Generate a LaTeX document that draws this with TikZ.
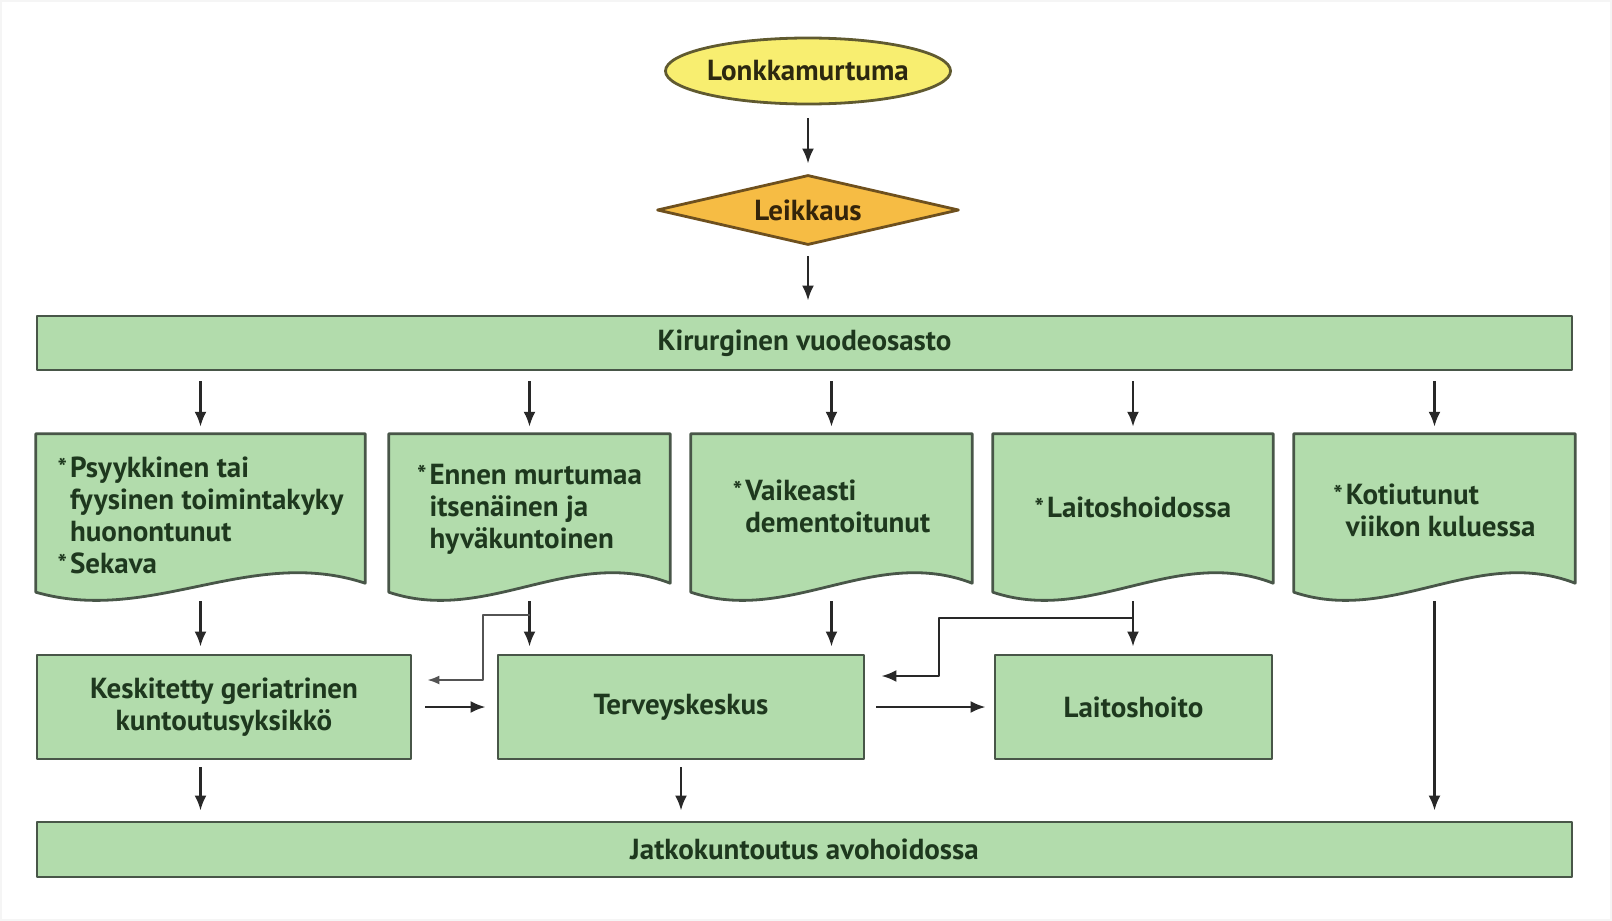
\documentclass[tikz,border=0pt]{standalone}
\usepackage{fontspec}
\newfontfamily\lbl{PT Sans Bold}
\usetikzlibrary{shapes.geometric, arrows.meta, calc}
\definecolor{boxgreen}{RGB}{178,220,172}
\definecolor{boxline}{RGB}{72,86,72}
\definecolor{txtgreen}{RGB}{30,56,30}
\definecolor{lonkyellow}{RGB}{248,238,112}
\definecolor{leikorange}{RGB}{246,188,68}
\definecolor{arrgray}{RGB}{40,40,40}
\newcommand{\astr}{{\fontsize{25}{25}\selectfont\raisebox{1pt}{*}}}

\begin{document}
\begin{tikzpicture}[x=1pt, y=-1pt, line join=round,
	box/.style={draw=boxline, fill=boxgreen, line width=2.8pt, inner sep=0pt, text=txtgreen,
		font=\lbl\fontsize{29}{32}\selectfont, align=center},
	docarea/.style={inner sep=0pt, minimum height=158pt},
	doctext/.style={inner sep=0pt, text=txtgreen, font=\lbl\fontsize{29}{32}\selectfont},
	arr/.style={-{Latex[length=15pt,width=12pt]}, line width=2.6pt, draw=arrgray},
	arrthin/.style={-{Latex[length=12pt,width=9pt]}, line width=1.9pt, draw=arrgray!80}]
	\useasboundingbox (0,0) rectangle (1612,921);
	\draw[gray!8, line width=4pt] (0,0) rectangle (1612,921);
	% top of the chart
	\node[ellipse, draw={rgb,255:red,96;green,90;blue,48}, fill=lonkyellow, line width=2.8pt, inner sep=0pt,
		minimum width=276pt, minimum height=66pt, text={rgb,255:red,44;green,40;blue,16},
		font=\lbl\fontsize{29}{32}\selectfont] (lonkka) at (808,71) {Lonkkamurtuma};
	\node[diamond, aspect=4.3, draw={rgb,255:red,110;green,80;blue,30}, fill=leikorange, line width=2.8pt, inner sep=0pt,
		minimum width=302pt, minimum height=70pt, text={rgb,255:red,52;green,36;blue,10},
		font=\lbl\fontsize{29}{32}\selectfont] (leik) at (808,210) {Leikkaus};
	\node[box, minimum width=1535pt, minimum height=54pt] (kir) at (804.5,343) {Kirurginen vuodeosasto};
	% document boxes
	\node[docarea, minimum width=329pt] (d1) at (200.5,513) {};
	\node[docarea, minimum width=281pt] (d2) at (529.5,513) {};
	\node[docarea, minimum width=281pt] (d3) at (831.5,513) {};
	\node[docarea, minimum width=280pt] (d4) at (1133,513) {};
	\node[docarea, minimum width=281pt] (d5) at (1434.5,513) {};
	\foreach \i in {1,...,5}
		\draw[boxline, fill=boxgreen, line width=2.8pt] (d\i.north west) -- (d\i.north east) -- ([yshift=9pt]d\i.south east)
			.. controls ($(d\i.south west)!0.65!(d\i.south east)+(0,-47)$) and ($(d\i.south west)!0.35!(d\i.south east)+(0,33)$)
			.. (d\i.south west) -- cycle;
	\node[doctext] (t1) at ([yshift=-6pt]d1) {\begin{tabular}{@{}r@{\hspace{3pt}}l@{}}\astr&Psyykkinen tai\\&fyysinen toimintakyky\\&huonontunut\\\astr&Sekava\end{tabular}};
	\node[doctext] (t2) at ([yshift=3pt]d2) {\begin{tabular}{@{}r@{\hspace{3pt}}l@{}}\astr&Ennen murtumaa\\&itsenäinen ja\\&hyväkuntoinen\end{tabular}};
	\node[doctext] (t3) at ([yshift=3pt]d3) {\begin{tabular}{@{}r@{\hspace{3pt}}l@{}}\astr&Vaikeasti\\&dementoitunut\end{tabular}};
	\node[doctext] (t4) at ([yshift=2pt]d4) {\begin{tabular}{@{}r@{\hspace{3pt}}l@{}}\astr&Laitoshoidossa\end{tabular}};
	\node[doctext] (t5) at ([yshift=-1pt]d5) {\begin{tabular}{@{}r@{\hspace{3pt}}l@{}}\astr&Kotiutunut\\&viikon kuluessa\end{tabular}};
	% second row and bottom bar
	\node[box, minimum width=374pt, minimum height=104pt] (kesk) at (224,707) {Keskitetty geriatrinen\\kuntoutusyksikkö};
	\node[box, minimum width=366pt, minimum height=104pt] (terv) at (681,707) {Terveyskeskus};
	\node[box, minimum width=277pt, minimum height=104pt] (lait) at (1133.5,707) {Laitoshoito};
	\node[box, minimum width=1535pt, minimum height=55pt] (jatko) at (804.5,849.5) {Jatkokuntoutus avohoidossa};
	% arrows
	\draw[arr, shorten <=13pt, shorten >=10pt] (lonkka) -- (leik);
	\draw[arr, shorten <=10pt, shorten >=14pt] (leik.south) -- (leik.south |- kir.north);
	\foreach \i in {1,...,5}
		\draw[arr, shorten <=10pt, shorten >=7pt] (kir.south -| d\i) -- (d\i.north);
	\draw[arr, shorten <=9pt, shorten >=7pt] (d1.south) -- (d1.south |- kesk.north);
	\draw[arr, shorten <=9pt, shorten >=7pt] (d2.south) -- (d2.south |- terv.north);
	\draw[arr, shorten <=9pt, shorten >=7pt] (d3.south) -- (d3.south |- terv.north);
	\draw[arr, shorten <=9pt, shorten >=7pt] (d4.south) -- (d4.south |- lait.north);
	\draw[arr, shorten <=9pt, shorten >=10pt] (d5.south) -- (d5.south |- jatko.north);
	\draw[arrthin, shorten >=15pt] (d2.south |- 0,615) -- (483,615) -- (483,680) -- (kesk.east |- 0,680);
	\draw[arr, shorten >=16pt] (d4.south |- 0,618) -- (939,618) -- (939,676) -- (terv.east |- 0,676);
	\draw[arr, shorten <=13pt, shorten >=11pt] (kesk) -- (terv);
	\draw[arr, shorten <=11pt, shorten >=8pt] (terv) -- (lait);
	\draw[arr, shorten <=7pt, shorten >=10pt] (kesk.south -| d1) -- (jatko.north -| d1);
	\draw[arr, shorten <=7pt, shorten >=10pt] (terv.south) -- (terv.south |- jatko.north);
\end{tikzpicture}
\end{document}
